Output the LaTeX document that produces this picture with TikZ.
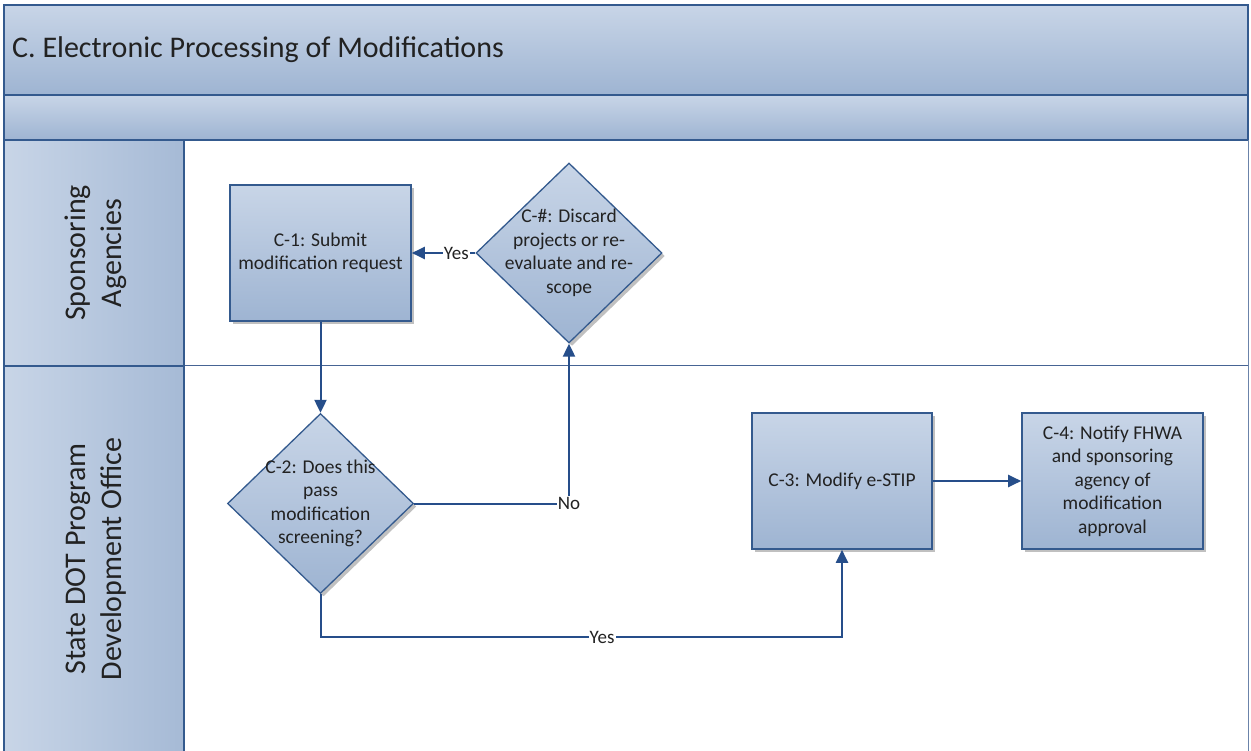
\documentclass[tikz,border=0pt]{standalone}
\usepackage{fontspec}
\setmainfont{Carlito}
\usetikzlibrary{arrows.meta,shapes.geometric,shadows}

\definecolor{shadetop}{RGB}{200,213,231}
\definecolor{shadebot}{RGB}{158,180,210}
\definecolor{edgeblue}{RGB}{52,90,142}
\definecolor{flowblue}{RGB}{38,78,138}
\definecolor{inkgray}{RGB}{34,34,34}
\definecolor{laneline}{RGB}{70,100,148}

\tikzset{
  band/.style={top color=shadetop, bottom color=shadebot, draw=edgeblue, line width=1.8pt},
  lanehead/.style={left color=shadetop, right color=shadebot!92!white, draw=edgeblue, line width=1.5pt},
  stepbox/.style={rectangle, draw=edgeblue, line width=1.6pt,
    top color=shadetop, bottom color=shadebot,
    minimum width=181pt, minimum height=136pt, inner sep=0pt,
    drop shadow={shadow xshift=3pt, shadow yshift=-3pt, opacity=0.35, fill=black!70},
    text=inkgray, align=center, font=\fontsize{19.5}{23.5}\selectfont},
  decision/.style={diamond, draw=edgeblue, line width=1.3pt,
    top color=shadetop, bottom color=shadebot,
    minimum width=186pt, minimum height=180pt, inner sep=0pt,
    drop shadow={shadow xshift=3pt, shadow yshift=-3pt, opacity=0.35, fill=black!70}},
  steptext/.style={text=inkgray, align=center, inner sep=0pt, font=\fontsize{19.5}{23.5}\selectfont},
  flow/.style={draw=flowblue, line width=2pt, -{Triangle[length=13pt,width=12pt]}},
  lbl/.style={fill=white, inner sep=1pt, text=inkgray, font=\fontsize{19}{21}\selectfont},
  lanetext/.style={rotate=90, align=center, text=inkgray, font=\fontsize{30}{36}\selectfont}
}

\begin{document}
\begin{tikzpicture}[x=1pt, y=-1pt]
\useasboundingbox (0,0) rectangle (1251,751);
\fill[white] (0,0) rectangle (1251,751);

% pool header and secondary band
\draw[band] (4,5) rectangle (1248,95);
\draw[band] (4,95) rectangle (1248,140);
\node[anchor=west, text=inkgray, font=\fontsize{30}{36}\selectfont, inner sep=0pt] (title) at (12,50) {C. Electronic Processing of Modifications};

% lanes
\draw[laneline, line width=1pt] (184,366) -- (1248,366);
\draw[laneline!80, line width=1pt] (1248,140) -- (1248,751);
\draw[lanehead] (4,140) rectangle (184,366);
\draw[lanehead] (4,366) rectangle (184,755);
\node[lanetext] (laneA) at (96,253) {Sponsoring\\Agencies};
\node[lanetext] (laneB) at (96,559) {State DOT Program\\Development Office};

% process steps
\node[stepbox] (c1) at (320.5,253) {C-1: Submit\\modification request};
\node[decision] (cx) at (569,253) {};
\node[steptext] at (cx) {C-\#: Discard\\projects or re-\\evaluate and re-\\scope};
\node[decision] (c2) at (320.5,503.5) {};
\node[steptext] at (c2) {C-2: Does this\\pass\\modification\\screening?};
\node[stepbox, minimum width=180pt] (c3) at (842,481) {C-3: Modify e-STIP};
\node[stepbox] (c4) at (1112.5,481) {C-4: Notify FHWA\\and sponsoring\\agency of\\modification\\approval};

% connectors
\coordinate (yesturn) at (320.5,637);
\draw[flow] (c1.south) -- (c2.north);
\draw[flow] (cx.west) -- node[lbl, pos=0.3] {Yes} (c1.east);
\draw[flow] (c2.east) -| node[lbl, pos=0.5] {No} (cx.south);
\draw[flow] (c2.south) -- (yesturn) -| node[lbl, pos=0.27] {Yes} (c3.south);
\draw[flow] (c3.east) -- (c4.west);
\end{tikzpicture}
\end{document}
